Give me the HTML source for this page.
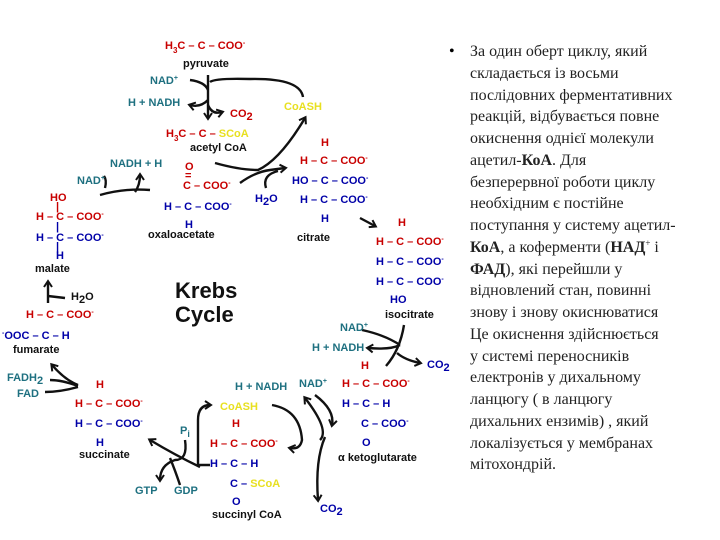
<!DOCTYPE html>
<html><head><meta charset="utf-8"><style>
html,body{margin:0;padding:0;background:#fff;}
body{width:720px;height:540px;position:relative;overflow:hidden;}
svg{position:absolute;left:0;top:0;}
svg text{font-family:"Liberation Sans",sans-serif;font-weight:bold;font-size:11px;}
.r{fill:#c80000}.b{fill:#0000a8}.t{fill:#1e7080}.y{fill:#e8e020}.k{fill:#111}
.tx{position:absolute;left:470px;top:41px;font-family:"Liberation Serif",serif;font-size:16px;line-height:21.75px;color:#222;white-space:nowrap;}
.tx sup{font-size:9px;line-height:0;vertical-align:6px;}
.bul{position:absolute;left:449px;top:41px;font-family:"Liberation Serif",serif;font-size:16px;line-height:21.75px;}
</style></head><body>
<svg width="720" height="540" viewBox="0 0 720 540">
<defs><marker id="a" markerUnits="userSpaceOnUse" markerWidth="10" markerHeight="10" refX="6" refY="5" orient="auto"><path d="M1,1 L7,5 L1,9" fill="none" stroke="#111" stroke-width="2"/></marker></defs>
<g fill="none" stroke="#111" stroke-width="2.4">
<path d="M208,75 L208,118" marker-end="url(#a)"/>
<path d="M190,80 Q205,82 208,90"/>
<path d="M208,100 Q200,108 190,105" marker-end="url(#a)"/>
<path d="M208,105 Q212,115 222,112" marker-end="url(#a)"/>
<path d="M210,82 Q215,78 250,79 Q300,78 303,97"/>
<path d="M215,163 Q240,170 258,170 Q280,160 305,118" marker-end="url(#a)"/>
<path d="M240,183 Q255,172 270,170 L285,168" marker-end="url(#a)"/>
<path d="M266,188 Q262,175 278,171"/>
<path d="M360,218 L375,226" marker-end="url(#a)"/>
<path d="M100,195 Q125,188 150,190"/>
<path d="M105,188 Q107,180 104,176"/>
<path d="M135,192 Q140,185 140,175" marker-end="url(#a)"/>
<path d="M48,303 L48,282" marker-end="url(#a)"/>
<path d="M48,296 L65,298"/>
<path d="M78,385 Q65,380 52,365" marker-end="url(#a)"/>
<path d="M78,387 Q60,392 45,392"/>
<path d="M78,386 Q62,380 50,380"/>
<path d="M200,467 Q175,455 150,440" marker-end="url(#a)"/>
<path d="M185,440 Q188,460 175,460 Q160,465 160,480" marker-end="url(#a)"/>
<path d="M180,485 Q175,470 170,458"/>
<path d="M210,465 L198,465 L198,420 Q198,405 210,405" marker-end="url(#a)"/>
<path d="M272,405 Q300,410 302,440 Q300,450 290,448" marker-end="url(#a)"/>
<path d="M320,440 Q330,430 305,398" marker-end="url(#a)"/>
<path d="M315,395 Q335,410 332,425" marker-end="url(#a)"/>
<path d="M325,437 Q315,460 318,500" marker-end="url(#a)"/>
<path d="M404,325 Q400,350 386,366"/>
<path d="M362,330 Q385,335 400,345"/>
<path d="M400,345 Q390,350 368,348" marker-end="url(#a)"/>
<path d="M397,353 Q405,360 420,363" marker-end="url(#a)"/>
</g>
<text x="165" y="49" class="r">H<tspan font-size="8" dy="4">3</tspan><tspan dy="-4">C – C – COO</tspan><tspan font-size="7" dy="-4">-</tspan></text>
<text x="183" y="67" class="k">pyruvate</text>
<text x="150" y="84" class="t">NAD<tspan font-size="7" dy="-4">+</tspan></text>
<text x="128" y="106" class="t">H + NADH</text>
<text x="230" y="117" class="r">CO<tspan dy="3">2</tspan></text>
<text x="284" y="110" class="y">CoASH</text>
<text x="166" y="137" class="r">H<tspan font-size="8" dy="4">3</tspan><tspan dy="-4">C – C – </tspan><tspan class="y">SCoA</tspan></text>
<text x="190" y="151" class="k">acetyl CoA</text>
<text x="110" y="167" class="t">NADH + H</text>
<text x="77" y="184" class="t">NAD<tspan font-size="7" dy="-4">+</tspan></text>
<text x="50" y="201" class="r">HO</text>
<text x="56" y="210" class="r">|</text>
<text x="36" y="220" class="r">H – C – COO<tspan font-size="7" dy="-4">-</tspan></text>
<text x="56" y="230" class="b">|</text>
<text x="36" y="241" class="b">H – C – COO<tspan font-size="7" dy="-4">-</tspan></text>
<text x="56" y="250" class="b">|</text>
<text x="56" y="259" class="b">H</text>
<text x="35" y="272" class="k">malate</text>
<text x="185" y="170" class="r">O</text>
<text x="185" y="179" class="r">=</text>
<text x="183" y="189" class="r">C – COO<tspan font-size="7" dy="-4">-</tspan></text>
<text x="164" y="210" class="b">H – C – COO<tspan font-size="7" dy="-4">-</tspan></text>
<text x="185" y="228" class="b">H</text>
<text x="148" y="238" class="k">oxaloacetate</text>
<text x="255" y="202" class="b">H<tspan dy="3">2</tspan><tspan dy="-3">O</tspan></text>
<text x="321" y="146" class="r">H</text>
<text x="300" y="164" class="r">H – C – COO<tspan font-size="7" dy="-4">-</tspan></text>
<text x="292" y="184" class="b">HO – C – COO<tspan font-size="7" dy="-4">-</tspan></text>
<text x="300" y="203" class="b">H – C – COO<tspan font-size="7" dy="-4">-</tspan></text>
<text x="321" y="222" class="b">H</text>
<text x="297" y="241" class="k">citrate</text>
<text x="398" y="226" class="r">H</text>
<text x="376" y="245" class="r">H – C – COO<tspan font-size="7" dy="-4">-</tspan></text>
<text x="376" y="265" class="b">H – C – COO<tspan font-size="7" dy="-4">-</tspan></text>
<text x="376" y="285" class="b">H – C – COO<tspan font-size="7" dy="-4">-</tspan></text>
<text x="390" y="303" class="b">HO</text>
<text x="385" y="318" class="k">isocitrate</text>
<text x="340" y="331" class="t">NAD<tspan font-size="7" dy="-4">+</tspan></text>
<text x="312" y="351" class="t">H + NADH</text>
<text x="427" y="368" class="b">CO<tspan dy="3">2</tspan></text>
<text x="361" y="369" class="r">H</text>
<text x="342" y="387" class="r">H – C – COO<tspan font-size="7" dy="-4">-</tspan></text>
<text x="342" y="407" class="b">H – C – H</text>
<text x="361" y="427" class="b">C – COO<tspan font-size="7" dy="-4">-</tspan></text>
<text x="362" y="446" class="b">O</text>
<text x="338" y="461" class="k">α ketoglutarate</text>
<text x="235" y="390" class="t">H + NADH</text>
<text x="299" y="387" class="t">NAD<tspan font-size="7" dy="-4">+</tspan></text>
<text x="220" y="410" class="y">CoASH</text>
<text x="232" y="427" class="r">H</text>
<text x="210" y="447" class="r">H – C – COO<tspan font-size="7" dy="-4">-</tspan></text>
<text x="210" y="467" class="b">H – C – H</text>
<text x="230" y="487" class="b">C – <tspan class="y">SCoA</tspan></text>
<text x="232" y="505" class="b">O</text>
<text x="212" y="518" class="k">succinyl CoA</text>
<text x="320" y="512" class="b">CO<tspan dy="3">2</tspan></text>
<text x="180" y="434" class="t">P<tspan dy="3" font-size="9">i</tspan></text>
<text x="135" y="494" class="t">GTP</text>
<text x="174" y="494" class="t">GDP</text>
<text x="96" y="388" class="r">H</text>
<text x="75" y="407" class="r">H – C – COO<tspan font-size="7" dy="-4">-</tspan></text>
<text x="75" y="427" class="b">H – C – COO<tspan font-size="7" dy="-4">-</tspan></text>
<text x="96" y="446" class="b">H</text>
<text x="79" y="458" class="k">succinate</text>
<text x="7" y="381" class="t">FADH<tspan dy="3">2</tspan></text>
<text x="17" y="397" class="t">FAD</text>
<text x="71" y="300" class="k">H<tspan dy="3">2</tspan><tspan dy="-3">O</tspan></text>
<text x="26" y="318" class="r">H – C – COO<tspan font-size="7" dy="-4">-</tspan></text>
<text x="2" y="339" class="b"><tspan font-size="7" dy="-4">-</tspan><tspan dy="4">OOC – C – H</tspan></text>
<text x="13" y="353" class="k">fumarate</text>
<text x="175" y="298" class="k" style="font-size:22px">Krebs</text>
<text x="175" y="322" class="k" style="font-size:22px">Cycle</text>
</svg>
<div class="bul">•</div>
<div class="tx">За один оберт циклу, який<br>складається із восьми<br>послідовних ферментативних<br>реакцій, відбувається повне<br>окиснення однієї молекули<br>ацетил-<b>КоА</b>. Для<br>безперервної роботи  циклу<br>необхідним є постійне<br>поступання у систему ацетил-<br><b>КоА</b>, а коферменти (<b>НАД</b><sup>+</sup> і<br><b>ФАД</b>), які перейшли у<br>відновлений стан, повинні<br>знову і знову окиснюватися<br>Це окиснення   здійснюється<br>у системі переносників<br>електронів у дихальному<br>ланцюгу ( в ланцюгу<br>дихальних ензимів) , який<br>локалізується у мембранах<br>мітохондрій.</div>
</body></html>
